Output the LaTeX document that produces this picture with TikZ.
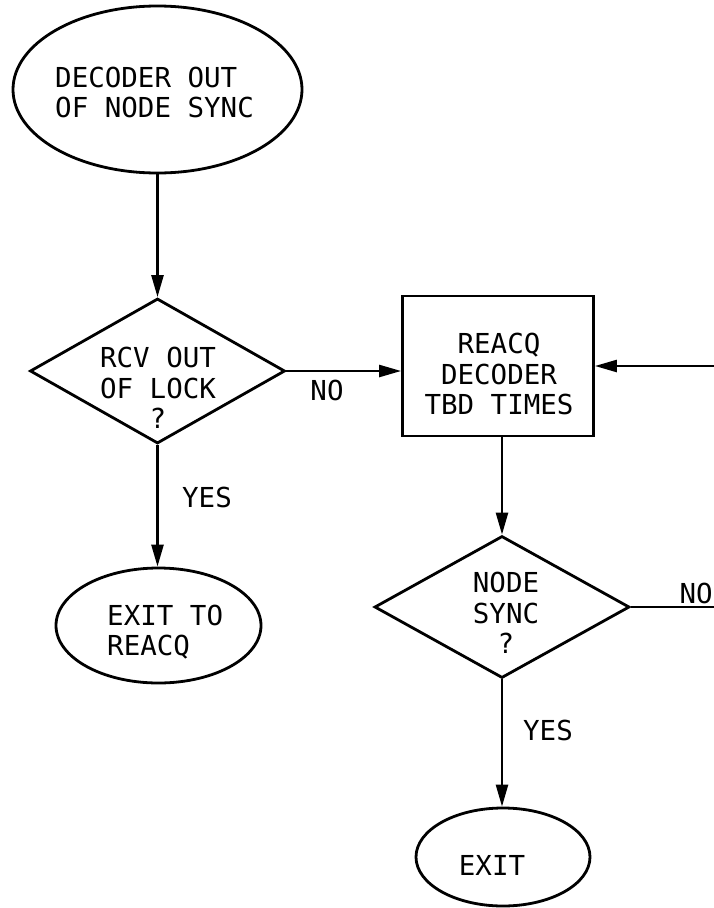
\documentclass[tikz,border=0pt]{standalone}
\usepackage{fontspec}
\setmonofont{DejaVu Sans Mono}
\usetikzlibrary{shapes.geometric,arrows.meta}
\tikzset{
  shapeline/.style={draw=black, line width=2.8pt, inner sep=0pt, fill=none},
  ovalbox/.style={shapeline, ellipse},
  decbox/.style={shapeline, diamond},
  procbox/.style={shapeline, rectangle},
  txt/.style={inner sep=0pt, font=\ttfamily\fontsize{27.5}{30.5}\selectfont},
  flow/.style={line width=2.5pt, -{Triangle[length=22pt,width=12pt]}},
  plainline/.style={line width=2.5pt}
}
\begin{document}
\begin{tikzpicture}[x=1pt,y=-1pt]
\useasboundingbox (0,0) rectangle (714,908);
\clip (0,0) rectangle (714,908);
\fill[white] (0,0) rectangle (714,908);

% shapes
\node[ovalbox, minimum width=289pt, minimum height=167pt] (e1) at (157.5,89.5) {};
\node[decbox, minimum width=255pt, minimum height=145pt] (d1) at (157.5,371) {};
\node[procbox, minimum width=191pt, minimum height=140pt] (r) at (498,366) {};
\node[ovalbox, minimum width=205pt, minimum height=115pt] (e2) at (158.5,625.5) {};
\node[decbox, minimum width=255pt, minimum height=142pt] (d2) at (502,607) {};
\node[ovalbox, minimum width=174pt, minimum height=98pt] (e3) at (503,857) {};

% texts
\node[txt, anchor=west, align=left] (t1) at (55,92.5) {DECODER OUT\\OF NODE SYNC};
\node[txt, align=center] (t2) at (158,388) {RCV OUT\\OF LOCK\\?};
\node[txt, align=center] (t3) at (499,374) {REACQ\\DECODER\\TBD TIMES};
\node[txt, anchor=west, align=left] (t4) at (107,632) {EXIT TO\\REACQ};
\node[txt, align=center] (t5) at (506,613) {NODE\\SYNC\\?};
\node[txt] (t6) at (492,865) {EXIT};

% labels
\node[txt] (yes1) at (207,497) {YES};
\node[txt] (no1) at (327,390) {NO};
\node[txt] (yes2) at (548,730) {YES};
\node[txt, anchor=east] (no2) at (713,593) {NO};

% free ends
\coordinate (rin) at (714,366);
\coordinate (nout) at (714,607);

% connectors
\draw[flow] (e1.south -| d1.north) -- (d1.north);
\draw[flow] (d1.east) -- (d1.east -| r.west);
\draw[flow] (rin) -- (r.east);
\draw[flow] (d1.south) -- (d1.south |- e2.north);
\draw[flow] (r.south -| d2.north) -- (d2.north);
\draw[plainline] (d2.east) -- (nout);
\draw[flow] (d2.south) -- (d2.south |- e3.north);
\end{tikzpicture}
\end{document}
